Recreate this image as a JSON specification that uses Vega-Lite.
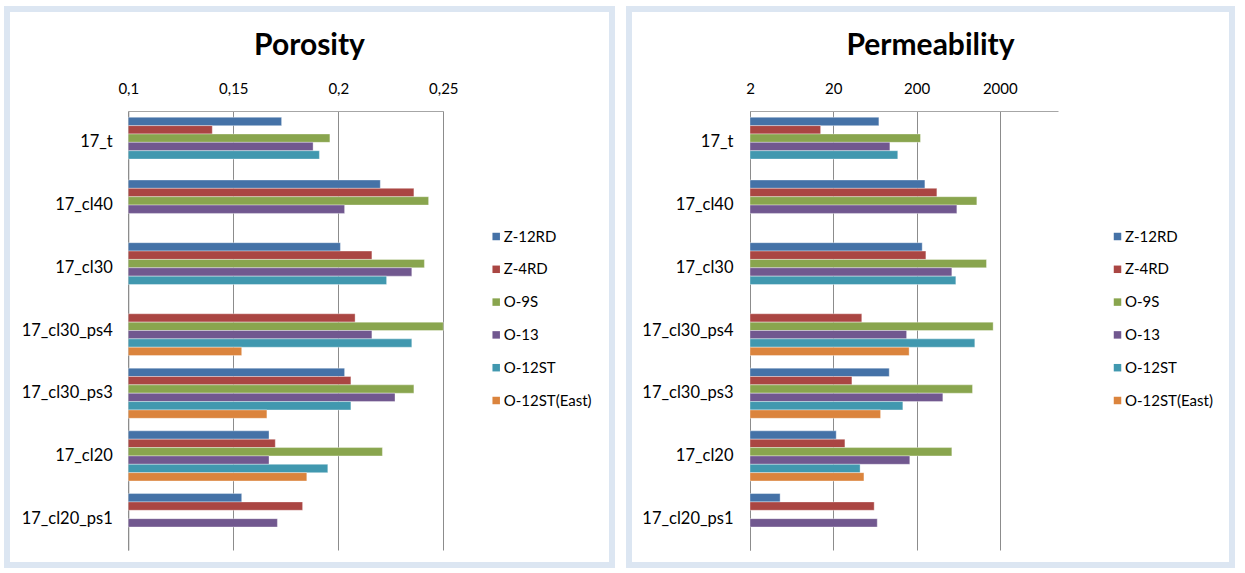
{
  "$schema": "https://vega.github.io/schema/vega-lite/v6.json",
  "background": "white",
  "padding": {"left": 4, "top": 6, "right": 0, "bottom": 0},
  "spacing": 11,
  "datasets": {
    "porosity": [
      {"sample": "17_t", "series": "Z-12RD", "value": 0.173},
      {"sample": "17_t", "series": "Z-4RD", "value": 0.140},
      {"sample": "17_t", "series": "O-9S", "value": 0.196},
      {"sample": "17_t", "series": "O-13", "value": 0.188},
      {"sample": "17_t", "series": "O-12ST", "value": 0.191},
      {"sample": "17_cl40", "series": "Z-12RD", "value": 0.220},
      {"sample": "17_cl40", "series": "Z-4RD", "value": 0.236},
      {"sample": "17_cl40", "series": "O-9S", "value": 0.243},
      {"sample": "17_cl40", "series": "O-13", "value": 0.203},
      {"sample": "17_cl30", "series": "Z-12RD", "value": 0.201},
      {"sample": "17_cl30", "series": "Z-4RD", "value": 0.216},
      {"sample": "17_cl30", "series": "O-9S", "value": 0.241},
      {"sample": "17_cl30", "series": "O-13", "value": 0.235},
      {"sample": "17_cl30", "series": "O-12ST", "value": 0.223},
      {"sample": "17_cl30_ps4", "series": "Z-4RD", "value": 0.208},
      {"sample": "17_cl30_ps4", "series": "O-9S", "value": 0.250},
      {"sample": "17_cl30_ps4", "series": "O-13", "value": 0.216},
      {"sample": "17_cl30_ps4", "series": "O-12ST", "value": 0.235},
      {"sample": "17_cl30_ps4", "series": "O-12ST(East)", "value": 0.154},
      {"sample": "17_cl30_ps3", "series": "Z-12RD", "value": 0.203},
      {"sample": "17_cl30_ps3", "series": "Z-4RD", "value": 0.206},
      {"sample": "17_cl30_ps3", "series": "O-9S", "value": 0.236},
      {"sample": "17_cl30_ps3", "series": "O-13", "value": 0.227},
      {"sample": "17_cl30_ps3", "series": "O-12ST", "value": 0.206},
      {"sample": "17_cl30_ps3", "series": "O-12ST(East)", "value": 0.166},
      {"sample": "17_cl20", "series": "Z-12RD", "value": 0.167},
      {"sample": "17_cl20", "series": "Z-4RD", "value": 0.170},
      {"sample": "17_cl20", "series": "O-9S", "value": 0.221},
      {"sample": "17_cl20", "series": "O-13", "value": 0.167},
      {"sample": "17_cl20", "series": "O-12ST", "value": 0.195},
      {"sample": "17_cl20", "series": "O-12ST(East)", "value": 0.185},
      {"sample": "17_cl20_ps1", "series": "Z-12RD", "value": 0.154},
      {"sample": "17_cl20_ps1", "series": "Z-4RD", "value": 0.183},
      {"sample": "17_cl20_ps1", "series": "O-13", "value": 0.171}
    ],
    "permeability": [
      {"sample": "17_t", "series": "Z-12RD", "value": 70.6},
      {"sample": "17_t", "series": "Z-4RD", "value": 14.1},
      {"sample": "17_t", "series": "O-9S", "value": 223},
      {"sample": "17_t", "series": "O-13", "value": 95.7},
      {"sample": "17_t", "series": "O-12ST", "value": 119},
      {"sample": "17_cl40", "series": "Z-12RD", "value": 252},
      {"sample": "17_cl40", "series": "Z-4RD", "value": 351},
      {"sample": "17_cl40", "series": "O-9S", "value": 1060},
      {"sample": "17_cl40", "series": "O-13", "value": 610},
      {"sample": "17_cl30", "series": "Z-12RD", "value": 234},
      {"sample": "17_cl30", "series": "Z-4RD", "value": 259},
      {"sample": "17_cl30", "series": "O-9S", "value": 1384},
      {"sample": "17_cl30", "series": "O-13", "value": 531},
      {"sample": "17_cl30", "series": "O-12ST", "value": 593},
      {"sample": "17_cl30_ps4", "series": "Z-4RD", "value": 44},
      {"sample": "17_cl30_ps4", "series": "O-9S", "value": 1664},
      {"sample": "17_cl30_ps4", "series": "O-13", "value": 152},
      {"sample": "17_cl30_ps4", "series": "O-12ST", "value": 1002},
      {"sample": "17_cl30_ps4", "series": "O-12ST(East)", "value": 163},
      {"sample": "17_cl30_ps3", "series": "Z-12RD", "value": 94},
      {"sample": "17_cl30_ps3", "series": "Z-4RD", "value": 33.5},
      {"sample": "17_cl30_ps3", "series": "O-9S", "value": 940},
      {"sample": "17_cl30_ps3", "series": "O-13", "value": 414},
      {"sample": "17_cl30_ps3", "series": "O-12ST", "value": 137},
      {"sample": "17_cl30_ps3", "series": "O-12ST(East)", "value": 74},
      {"sample": "17_cl20", "series": "Z-12RD", "value": 21.7},
      {"sample": "17_cl20", "series": "Z-4RD", "value": 27.6},
      {"sample": "17_cl20", "series": "O-9S", "value": 531},
      {"sample": "17_cl20", "series": "O-13", "value": 166},
      {"sample": "17_cl20", "series": "O-12ST", "value": 42},
      {"sample": "17_cl20", "series": "O-12ST(East)", "value": 46.7},
      {"sample": "17_cl20_ps1", "series": "Z-12RD", "value": 4.6},
      {"sample": "17_cl20_ps1", "series": "Z-4RD", "value": 62},
      {"sample": "17_cl20_ps1", "series": "O-13", "value": 67.5}
    ]
  },
  "hconcat": [
    {
      "width": 605,
      "height": 556,
      "data": {"name": "porosity"},
      "title": {"text": "Porosity"},
      "mark": {"type": "bar", "stroke": "white", "strokeWidth": 0.6, "strokeOpacity": 0.6},
      "encoding": {
        "y": {
          "field": "sample", "type": "nominal",
          "scale": {
            "domain": ["17_t", "17_cl40", "17_cl30", "17_cl30_ps4", "17_cl30_ps3", "17_cl20", "17_cl20_ps1"],
            "range": [102, 541], "paddingInner": 0.2, "paddingOuter": 0.1
          },
          "axis": {"offset": -121.3, "labelPadding": 16}
        },
        "yOffset": {
          "field": "series", "type": "nominal",
          "scale": {"domain": ["Z-12RD", "Z-4RD", "O-9S", "O-13", "O-12ST", "O-12ST(East)"], "paddingInner": 0, "paddingOuter": 0}
        },
        "x": {
          "field": "value", "type": "quantitative",
          "scale": {"domain": [0.1, 0.25], "range": [121.3, 436.3], "zero": false, "nice": false},
          "axis": {
            "orient": "top", "offset": -102, "values": [0.1, 0.15, 0.2, 0.25],
            "labelExpr": "replace(format(datum.value, '.2~f'), '.', ',')"
          }
        },
        "x2": {"datum": 0.1},
        "color": {
          "field": "series", "type": "nominal",
          "scale": {
            "domain": ["Z-12RD", "Z-4RD", "O-9S", "O-13", "O-12ST", "O-12ST(East)"],
            "range": ["#4572A7", "#AA4643", "#89A54E", "#71588F", "#4198AF", "#DB843D"]
          },
          "legend": {"legendX": 481.7, "legendY": 220}
        }
      }
    },
    {
      "width": 603,
      "height": 556,
      "data": {"name": "permeability"},
      "title": {"text": "Permeability"},
      "mark": {"type": "bar", "stroke": "white", "strokeWidth": 0.6, "strokeOpacity": 0.6},
      "encoding": {
        "y": {
          "field": "sample", "type": "nominal",
          "scale": {
            "domain": ["17_t", "17_cl40", "17_cl30", "17_cl30_ps4", "17_cl30_ps3", "17_cl20", "17_cl20_ps1"],
            "range": [102, 541], "paddingInner": 0.2, "paddingOuter": 0.1
          },
          "axis": {"offset": -121, "labelPadding": 17}
        },
        "yOffset": {
          "field": "series", "type": "nominal",
          "scale": {"domain": ["Z-12RD", "Z-4RD", "O-9S", "O-13", "O-12ST", "O-12ST(East)"], "paddingInner": 0, "paddingOuter": 0}
        },
        "x": {
          "field": "value", "type": "quantitative",
          "scale": {"type": "log", "domain": [2, 10000], "range": [121, 429], "nice": false},
          "axis": {
            "orient": "top", "offset": -102, "values": [2, 20, 200, 2000],
            "labelExpr": "format(datum.value, 'd')"
          }
        },
        "x2": {"datum": 2},
        "color": {
          "field": "series", "type": "nominal",
          "scale": {
            "domain": ["Z-12RD", "Z-4RD", "O-9S", "O-13", "O-12ST", "O-12ST(East)"],
            "range": ["#4572A7", "#AA4643", "#89A54E", "#71588F", "#4198AF", "#DB843D"]
          },
          "legend": {"legendX": 481, "legendY": 220}
        }
      }
    }
  ],
  "resolve": {
    "scale": {"x": "independent", "y": "independent", "yOffset": "independent", "color": "independent"},
    "legend": {"color": "independent"}
  },
  "config": {
    "font": "Lato",
    "view": {"stroke": "#DCE6F2", "strokeWidth": 6, "fill": "white"},
    "title": {
      "font": "Lato", "fontSize": 30, "fontWeight": "bold", "color": "black",
      "anchor": "middle", "frame": "group", "baseline": "alphabetic", "offset": -52
    },
    "axis": {
      "title": null, "ticks": false, "labelFont": "Lato", "labelFontSize": 15,
      "labelColor": "black", "domainColor": "#8C8C8C", "domainWidth": 1,
      "gridColor": "#8C8C8C", "gridWidth": 1, "labelFlush": false, "labelOverlap": false
    },
    "axisX": {"grid": true, "labelPadding": 15, "domainColor": "#A6A6A6"},
    "axisY": {"grid": false, "labelFontSize": 16.5},
    "legend": {
      "orient": "none", "title": null, "symbolType": "square", "symbolSize": 56,
      "symbolStrokeWidth": 0, "labelFont": "Lato", "labelFontSize": 15,
      "labelColor": "black", "labelOffset": 0, "rowPadding": 16.8, "padding": 0
    }
  }
}
